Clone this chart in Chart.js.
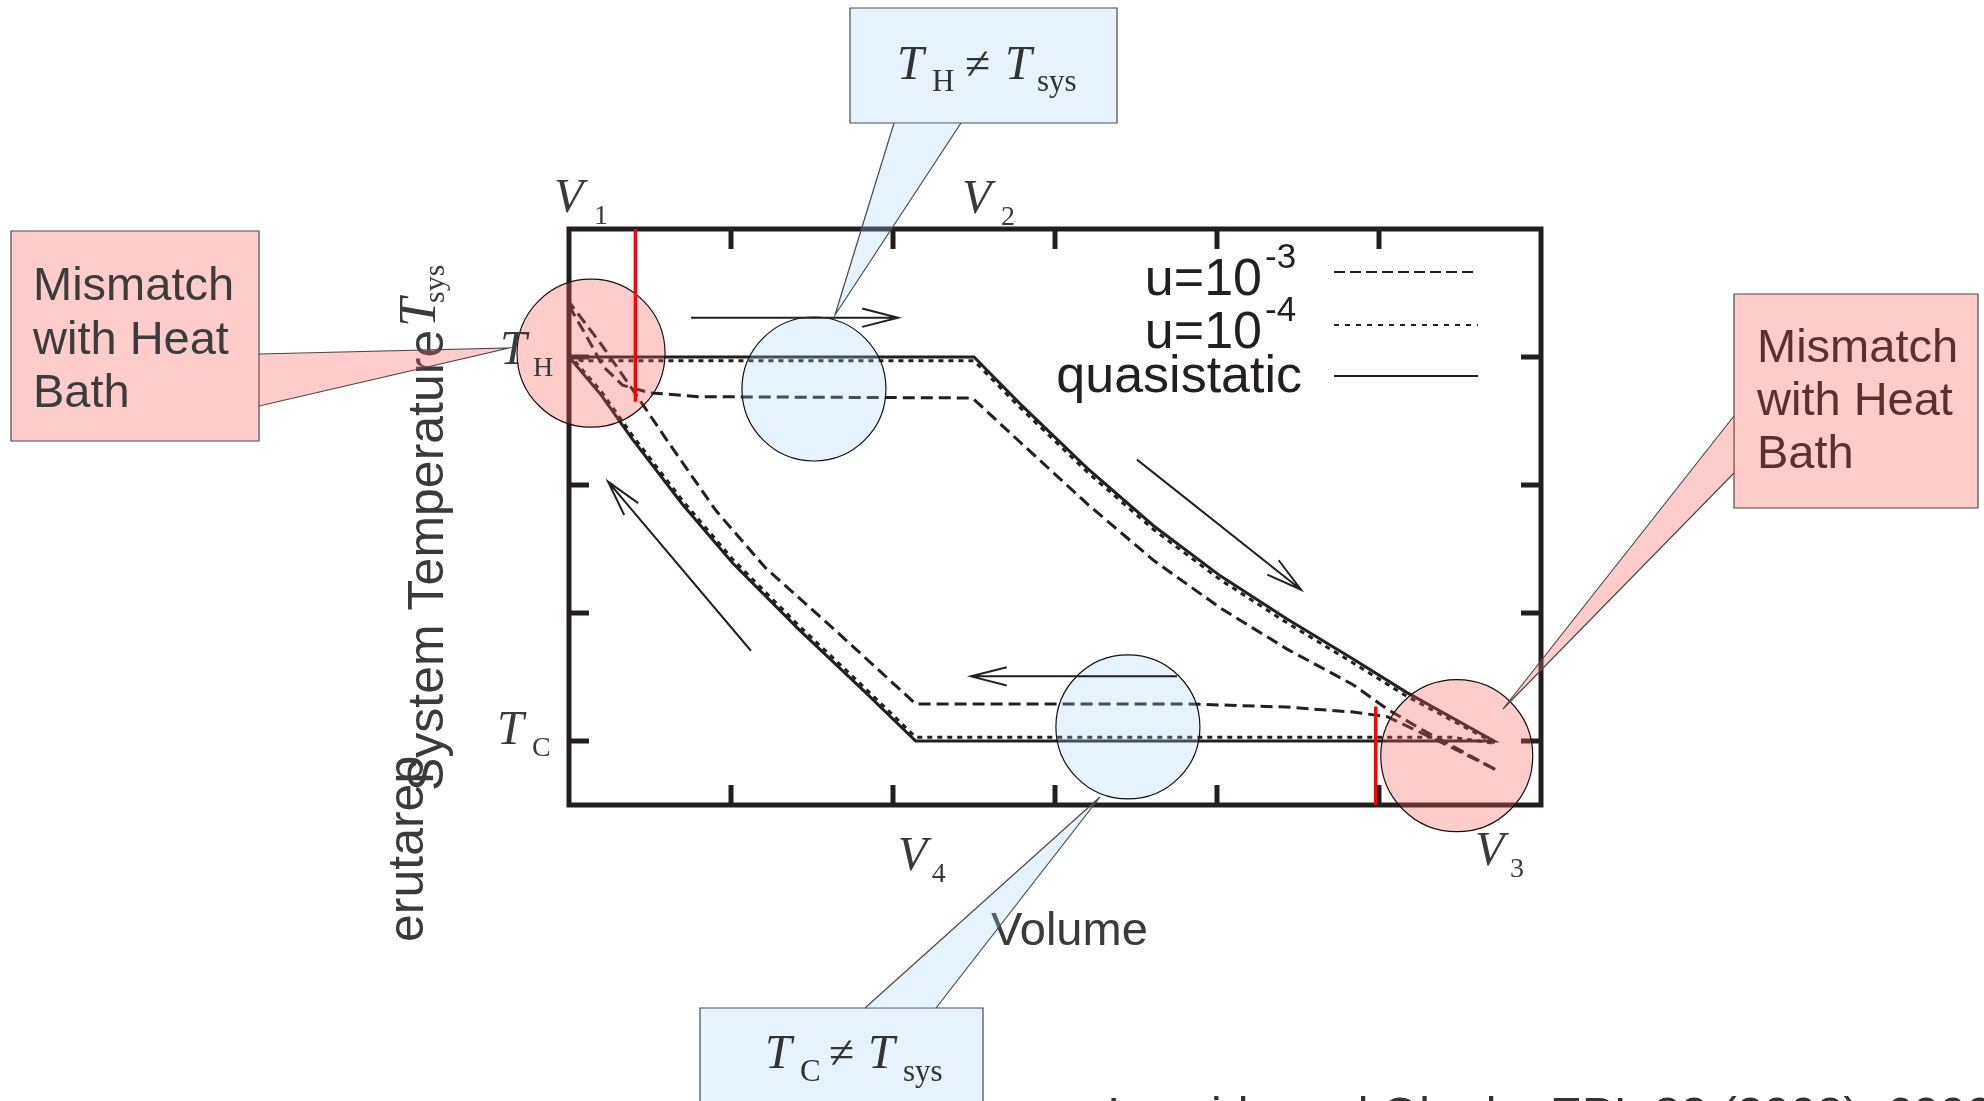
<!DOCTYPE html>
<html>
<head>
<meta charset="utf-8">
<title>Finite-time Carnot cycle</title>
<script src="https://cdn.jsdelivr.net/npm/chart.js@4.4.1/dist/chart.umd.min.js"></script>
<style>
  html, body { margin: 0; padding: 0; background: #ffffff; }
  canvas { display: block; }
</style>
</head>
<body>
<canvas id="chart" width="1984" height="1101"></canvas>
<script>
// Volume axis: V1 sits at 0, ticks every unit up to 6.
// Temperature axis: T_C = 0, T_H = 3.

// piston speed u = 10^-3 (dashed)
const u3X = [0, 0.105, 0.208, 0.33, 0.50, 0.80, 2.49, 2.78, 3.21, 3.61, 4.02, 4.43, 4.84, 5.05, 5.25, 5.73,
             5.40, 5.05, 4.84, 4.43, 3.81, 2.14, 1.63, 1.215, 0.907, 0.599, 0.39, 0.187, 0];
const u3Y = [3.40, 3.17, 2.93, 2.78, 2.72, 2.69, 2.68, 2.34, 1.84, 1.41, 1.04, 0.72, 0.44, 0.25, 0.10, -0.23,
             -0.02, 0.19, 0.226, 0.265, 0.29, 0.29, 0.88, 1.35, 1.80, 2.36, 2.75, 3.12, 3.43];

// piston speed u = 10^-4 (dotted)
const u4X = [0, 0.08, 2.50, 2.78, 3.20, 3.61, 4.02, 4.43, 4.84, 5.17, 5.72,
             5.45, 2.14, 1.83, 1.42, 1.01, 0.70, 0.39, 0.20, 0];
const u4Y = [3.00, 2.97, 2.97, 2.61, 2.10, 1.65, 1.26, 0.925, 0.61, 0.35, -0.02,
             0.03, 0.03, 0.41, 0.90, 1.42, 1.88, 2.39, 2.73, 3.02];

// quasistatic Carnot cycle (solid)
const quasiX = [0, 2.50, 2.78, 3.20, 3.61, 4.02, 4.43, 4.84, 5.17, 5.71,
                2.14, 1.83, 1.42, 1.01, 0.70, 0.39, 0.20, 0];
const quasiY = [3.00, 3.00, 2.64, 2.13, 1.68, 1.29, 0.955, 0.64, 0.38, 0,
                0, 0.38, 0.87, 1.39, 1.85, 2.36, 2.70, 3.00];

const legendBase = ['u=10', 'u=10', 'quasistatic'];
const legendExp = ['-3', '-4', ''];

const xTicks = [1, 2, 3, 4, 5];
const yTicks = [0, 1, 2, 3];

// corners of the quasistatic cycle
const volumeKeys = ['1', '2', '3', '4'];
const volumeAt = [0, 2.5, 5.71, 2.14];
const tempKeys = ['H', 'C'];
const tempAt = [3, 0];

// heat bath contact switches (red markers)
const switchX = [0.41, 4.98];
const switchFrom = [2.65, -0.5];
const switchTo = [4, 0.27];

const INK = '#231f20';
const TEXT = '#3a3a3a';
const SANS = '"Liberation Sans", Arial, sans-serif';
const SERIF = '"Liberation Serif", "Times New Roman", serif';

const pts = (xs, ys) => xs.map((x, i) => ({ x: x, y: ys[i] }));

// highlighted regions (centre in data units, radius in px)
const spots = [
  { x: 0.136, y: 3.03, r: 74, fill: 'rgba(255, 90, 90, 0.31)' },
  { x: 1.512, y: 2.75, r: 72, fill: 'rgba(163, 207, 244, 0.27)' },
  { x: 3.45, y: 0.11, r: 72, fill: 'rgba(163, 207, 244, 0.27)' },
  { x: 5.48, y: -0.115, r: 76, fill: 'rgba(255, 90, 90, 0.31)' }
];

// direction of travel around the cycle
const arrows = [
  { from: [0.753, 3.307], to: [2.031, 3.307] },
  { from: [3.506, 2.198], to: [4.519, 1.182] },
  { from: [3.753, 0.505], to: [2.481, 0.505] },
  { from: [1.123, 0.705], to: [0.241, 2.026] }
];

const PINK = 'rgba(255, 90, 90, 0.31)';
const BLUE = 'rgba(163, 207, 244, 0.27)';

function drawArrow(ctx, x1, y1, x2, y2) {
  const a = Math.atan2(y2 - y1, x2 - x1);
  const len = 37, spread = 0.25;
  ctx.beginPath();
  ctx.moveTo(x1, y1);
  ctx.lineTo(x2, y2);
  ctx.moveTo(x2 - len * Math.cos(a - spread), y2 - len * Math.sin(a - spread));
  ctx.lineTo(x2, y2);
  ctx.lineTo(x2 - len * Math.cos(a + spread), y2 - len * Math.sin(a + spread));
  ctx.stroke();
}

function callout(ctx, box, tail, fill) {
  const [x0, y0, x1, y1] = box;
  ctx.save();
  ctx.fillStyle = fill;
  ctx.strokeStyle = '#4a4a4a';
  ctx.lineWidth = 1.2;
  ctx.beginPath();
  ctx.moveTo(x0, y0);
  ctx.lineTo(x1, y0);
  ctx.lineTo(x1, y1);
  ctx.lineTo(x0, y1);
  ctx.closePath();
  ctx.fill();
  ctx.stroke();
  // tail wedge
  ctx.beginPath();
  ctx.moveTo(tail[0][0], tail[0][1]);
  ctx.lineTo(tail[1][0], tail[1][1]);
  ctx.lineTo(tail[2][0], tail[2][1]);
  ctx.closePath();
  ctx.fill();
  ctx.beginPath();
  ctx.moveTo(tail[0][0], tail[0][1]);
  ctx.lineTo(tail[1][0], tail[1][1]);
  ctx.lineTo(tail[2][0], tail[2][1]);
  ctx.stroke();
  ctx.restore();
}

function sub(ctx, main, small, x, y, dx) {
  ctx.font = 'italic 48px ' + SERIF;
  ctx.fillText(main, x, y);
  ctx.font = '28px ' + SERIF;
  ctx.fillText(small, x + dx, y + 12);
}

const cyclePlugin = {
  id: 'cycleDecor',
  afterDatasetsDraw(chart) {
    const ctx = chart.ctx;
    const xs = chart.scales.x, ys = chart.scales.y;
    const area = chart.chartArea;
    const X = v => xs.getPixelForValue(v);
    const Y = v => ys.getPixelForValue(v);

    ctx.save();
    // frame with inward ticks on every side
    ctx.strokeStyle = INK;
    ctx.lineWidth = 5;
    ctx.lineCap = 'square';
    ctx.strokeRect(area.left, area.top, area.right - area.left, area.bottom - area.top);
    ctx.lineCap = 'butt';
    ctx.beginPath();
    xTicks.forEach(t => {
      ctx.moveTo(X(t), area.bottom); ctx.lineTo(X(t), area.bottom - 20);
      ctx.moveTo(X(t), area.top); ctx.lineTo(X(t), area.top + 20);
    });
    yTicks.forEach(t => {
      ctx.moveTo(area.left, Y(t)); ctx.lineTo(area.left + 20, Y(t));
      ctx.moveTo(area.right, Y(t)); ctx.lineTo(area.right - 20, Y(t));
    });
    ctx.stroke();

    // translucent highlight circles
    spots.forEach(s => {
      ctx.beginPath();
      ctx.arc(X(s.x), Y(s.y), s.r, 0, Math.PI * 2);
      ctx.fillStyle = s.fill;
      ctx.fill();
      ctx.strokeStyle = '#111111';
      ctx.lineWidth = 1.2;
      ctx.stroke();
    });

    // red switching markers
    ctx.strokeStyle = '#ff0000';
    ctx.lineWidth = 3.5;
    switchX.forEach((sx, i) => {
      ctx.beginPath();
      ctx.moveTo(X(sx), Y(switchFrom[i]));
      ctx.lineTo(X(sx), Y(switchTo[i]));
      ctx.stroke();
    });

    // cycle direction arrows
    ctx.strokeStyle = INK;
    ctx.lineWidth = 2;
    arrows.forEach(a => drawArrow(ctx, X(a.from[0]), Y(a.from[1]), X(a.to[0]), Y(a.to[1])));

    // legend
    const base = [295, 348, 392];
    const lineY = [272, 325, 376];
    legendBase.forEach((lab, i) => {
      ctx.fillStyle = INK;
      ctx.textBaseline = 'alphabetic';
      if (legendExp[i]) {
        ctx.font = '52px ' + SANS;
        ctx.textAlign = 'right';
        ctx.fillText(lab, 1262, base[i]);
        ctx.font = '35px ' + SANS;
        ctx.textAlign = 'left';
        ctx.fillText(legendExp[i], 1265, base[i] - 27);
      } else {
        ctx.font = '52px ' + SANS;
        ctx.textAlign = 'right';
        ctx.fillText(lab, 1302, base[i]);
      }
      ctx.strokeStyle = INK;
      ctx.lineWidth = 2;
      ctx.setLineDash(i === 0 ? [11, 5] : i === 1 ? [5, 6] : []);
      ctx.beginPath();
      ctx.moveTo(1334, lineY[i]);
      ctx.lineTo(1478, lineY[i]);
      ctx.stroke();
      ctx.setLineDash([]);
    });

    // corner labels
    ctx.fillStyle = TEXT;
    ctx.textAlign = 'left';
    const vPos = [[-15, 212, 40], [-12, 213, 39], [-19, 865, 35], [-18, 870, 34]];
    volumeKeys.forEach((k, i) => {
      sub(ctx, 'V', k, X(volumeAt[i]) + vPos[i][0], vPos[i][1], vPos[i][2]);
    });
    // T labels sit just below their tick
    const tPos = [[500, 7, 33], [497, 3, 35]];
    tempKeys.forEach((k, i) => {
      sub(ctx, 'T', k, tPos[i][0], Y(tempAt[i]) + tPos[i][1], tPos[i][2]);
    });

    // axis titles
    ctx.fillStyle = TEXT;
    ctx.font = '47px ' + SANS;
    ctx.fillText('Volume', 991, 945);

    ctx.save();
    ctx.translate(443, 791);
    ctx.rotate(-Math.PI / 2);
    ctx.font = '50px ' + SANS;
    ctx.fillText('System Temperature', 0, 0);
    ctx.font = 'italic 52px ' + SERIF;
    ctx.fillText('T', 464, -8);
    ctx.font = '30px ' + SERIF;
    ctx.fillText('sys', 488, 1);
    ctx.restore();

    ctx.save();
    ctx.translate(423, 942);
    ctx.rotate(-Math.PI / 2);
    ctx.font = '50px ' + SANS;
    ctx.fillText('erutarep', 0, 0);
    ctx.restore();

    // callouts
    callout(ctx, [11, 231, 259, 441], [[259, 354], [509, 348], [259, 406]], PINK);
    callout(ctx, [1734, 294, 1978, 508], [[1734, 416], [1503, 709], [1734, 473]], PINK);
    callout(ctx, [850, 8, 1117, 123], [[894, 123], [835, 315], [961, 123]], BLUE);
    callout(ctx, [700, 1008, 983, 1140], [[865, 1008], [1100, 797], [936, 1008]], BLUE);

    ctx.font = '47px ' + SANS;
    ctx.fillStyle = '#3c3c3c';
    ['Mismatch', 'with Heat', 'Bath'].forEach((t, i) => ctx.fillText(t, 33, 300 + i * 53.5));
    ctx.fillStyle = '#5e2f2f';
    ['Mismatch', 'with Heat', 'Bath'].forEach((t, i) => ctx.fillText(t, 1757, 362 + i * 53));

    ctx.fillStyle = '#333333';
    const mathLine = (pieces) => pieces.forEach(p => {
      ctx.font = p[3];
      ctx.fillText(p[0], p[1], p[2]);
    });
    mathLine([
      ['T', 897, 79, 'italic 48px ' + SERIF],
      ['H', 932, 91, '31px ' + SERIF],
      ['\u2260', 965, 79, '46px ' + SERIF],
      ['T', 1005, 79, 'italic 48px ' + SERIF],
      ['sys', 1037, 91, '31px ' + SERIF]
    ]);
    mathLine([
      ['T', 765, 1068, 'italic 48px ' + SERIF],
      ['C', 800, 1081, '31px ' + SERIF],
      ['\u2260', 829, 1068, '46px ' + SERIF],
      ['T', 868, 1068, 'italic 48px ' + SERIF],
      ['sys', 903, 1081, '31px ' + SERIF]
    ]);

    // reference line at the foot of the slide
    ctx.fillStyle = '#333333';
    ctx.font = '48px ' + SANS;
    ctx.fillText('Izumida and Okuda, EPL 83 (2008), 60003', 1107, 1131);

    ctx.restore();
  }
};

const ctx = document.getElementById('chart').getContext('2d');
new Chart(ctx, {
  type: 'scatter',
  data: {
    datasets: [
      {
        label: 'u=10^-3',
        data: pts(u3X, u3Y),
        showLine: true,
        borderColor: INK,
        borderWidth: 3,
        borderDash: [12, 6],
        pointRadius: 0,
        fill: false
      },
      {
        label: 'u=10^-4',
        data: pts(u4X, u4Y),
        showLine: true,
        borderColor: INK,
        borderWidth: 3,
        borderDash: [5, 5],
        pointRadius: 0,
        fill: false
      },
      {
        label: 'quasistatic',
        data: pts(quasiX, quasiY),
        showLine: true,
        borderColor: INK,
        borderWidth: 3,
        pointRadius: 0,
        fill: false
      }
    ]
  },
  options: {
    responsive: false,
    animation: false,
    devicePixelRatio: 1,
    layout: { padding: { left: 569, right: 443, top: 229, bottom: 296 } },
    plugins: {
      legend: { display: false },
      tooltip: { enabled: false }
    },
    scales: {
      x: { type: 'linear', min: 0, max: 6, display: false },
      y: { type: 'linear', min: -0.5, max: 4, display: false }
    }
  },
  plugins: [cyclePlugin]
});
</script>
</body>
</html>
